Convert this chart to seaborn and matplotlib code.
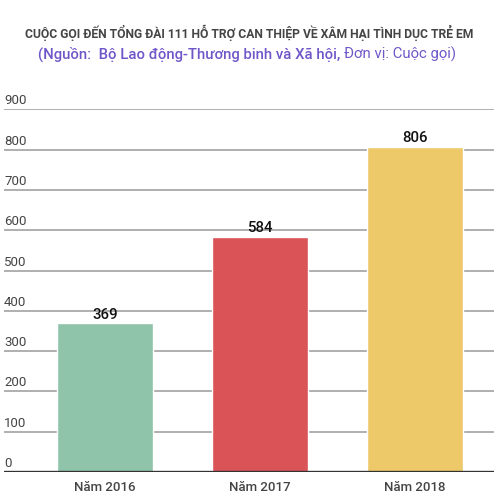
import matplotlib
matplotlib.use("Agg")
import matplotlib.pyplot as plt
import matplotlib.transforms as mtransforms
import seaborn as sns
import pandas as pd

categories = ["Năm 2016", "Năm 2017", "Năm 2018"]
values = [369, 584, 806]
colors = ["#8FC3AA", "#DA5356", "#EDC96A"]
yticks = [0, 100, 200, 300, 400, 500, 600, 700, 800, 900]

sns.set_theme(style="white")
plt.rcParams['font.family'] = ['Roboto', 'DejaVu Sans']

df = pd.DataFrame({"cat": categories, "val": values})

W, H = 504, 502
fig = plt.figure(figsize=(W / 100, H / 100), dpi=100)
fig.patch.set_facecolor("white")
ax = fig.add_axes([4 / W, (H - 473) / H, 490 / W, (473 - 110.3) / H])

sns.barplot(data=df, x="cat", y="val", hue="cat", palette=colors,
            width=0.62, dodge=False, legend=False, ax=ax, zorder=2,
            saturation=1)

ax.set_xlim(-0.652, 2.51)
ax.set_ylim(0, 900)
ax.set_yticks(yticks)
for t in yticks[1:]:
    ax.axhline(t, color="#9a9a9a", lw=1.1, zorder=1)
ax.axhline(0, color="#333333", lw=2.4, zorder=3)

for s in ax.spines.values():
    s.set_visible(False)
ax.set_xlabel("")
ax.set_ylabel("")
ax.tick_params(axis="y", length=0, labelleft=False)
ax.tick_params(axis="x", length=0, pad=6)
for lab in ax.get_xticklabels():
    lab.set_fontsize(9.5)
    lab.set_fontweight("medium")
    lab.set_color("#444444")

trans = mtransforms.blended_transform_factory(ax.transAxes, ax.transData)
off = mtransforms.offset_copy(trans, fig=fig, x=0, y=3, units="dots")
for t in ax.get_yticks():
    ax.text(0, t, f"{int(t)}", transform=off, ha="left", va="bottom",
            fontsize=9.5, color="#444444", zorder=4)

for c in ax.containers:
    ax.bar_label(c, labels=[f"{int(v)}" for v in c.datavalues], padding=2,
                 fontsize=10.8, fontweight="medium", color="#111111", zorder=5)

fig.text(249 / W, 1 - 33 / H, "CUỘC GỌI ĐẾN TỔNG ĐÀI 111 HỖ TRỢ CAN THIỆP VỀ XÂM HẠI TÌNH DỤC TRẺ EM",
         ha="center", va="center", fontsize=8.7, fontweight="bold", color="#444444")

t1 = fig.text(38 / W, 1 - 54 / H, "(Nguồn:  Bộ Lao động-Thương binh và Xã hội,",
              ha="left", va="center", fontsize=10.7, fontweight="medium", color="#7057C9")
fig.canvas.draw()
bb = t1.get_window_extent()
fig.text(bb.x1 / W + 4 / W, 1 - 54 / H, "Đơn vị: Cuộc gọi)",
         ha="left", va="center", fontsize=10.7, color="#7057C9")

fig.savefig("out.png", dpi=100, facecolor="white")
